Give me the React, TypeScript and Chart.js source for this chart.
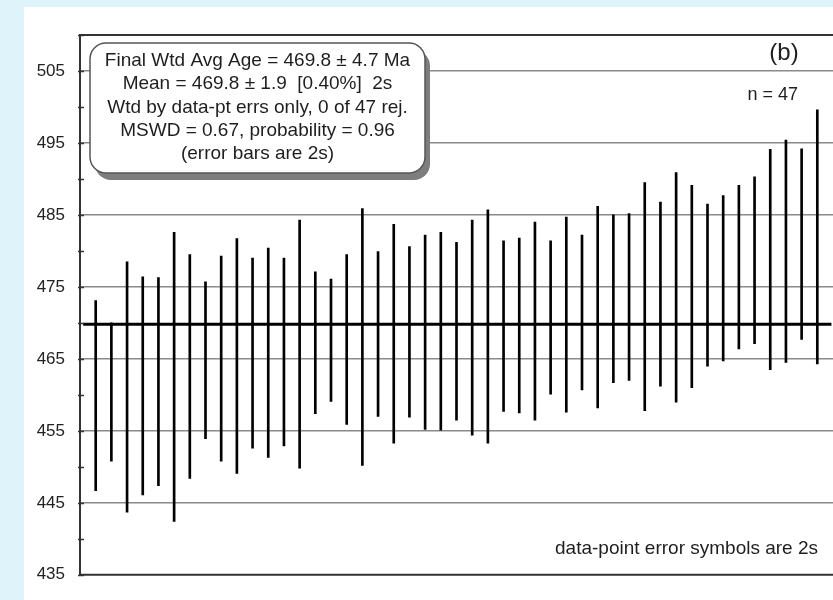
import React, { useEffect, useRef } from "react";
import { Chart, registerables } from "chart.js";

Chart.register(...registerables);

// ---- data ----
const lows = [
  446.7, 450.8, 443.7, 446.1, 447.4, 442.4, 448.4, 453.9, 450.8, 449.1,
  452.6, 451.3, 452.9, 449.8, 457.4, 459.1, 455.9, 450.2, 457.0, 453.3,
  456.9, 455.2, 455.1, 456.5, 454.4, 453.3, 457.7, 457.5, 456.5, 460.1,
  457.6, 460.7, 458.2, 461.7, 462.0, 457.8, 461.2, 459.0, 461.0, 464.0,
  464.7, 466.4, 467.1, 463.5, 464.5, 467.7, 464.3,
];
const highs = [
  473.1, 470.0, 478.5, 476.4, 476.3, 482.6, 479.5, 475.7, 479.3, 481.7,
  479.0, 480.4, 479.0, 484.3, 477.1, 476.1, 479.5, 485.9, 479.9, 483.7,
  480.6, 482.2, 482.6, 481.2, 484.3, 485.7, 481.4, 481.8, 484.0, 481.4,
  484.7, 482.2, 486.2, 485.0, 485.2, 489.5, 486.8, 490.9, 489.1, 486.5,
  487.7, 489.1, 490.3, 494.1, 495.4, 494.2, 499.6,
];
const meanAge = 469.8;
const yMin = 435;
const yMax = 510;
const yStep = 5;
const labelStep = 10;
const xMin = 0;
const xMax = 48;

const infoLines = [
  "Final Wtd Avg Age = 469.8 ± 4.7 Ma",
  "Mean = 469.8 ± 1.9  [0.40%]  2s",
  "Wtd by data-pt errs only, 0 of 47 rej.",
  "MSWD = 0.67, probability = 0.96",
  "(error bars are 2s)",
];
const panelLabel = "(b)";
const countLabel = "n = 47";
const footNote = "data-point error symbols are 2s";

const W = 833;
const H = 600;

function roundRect(ctx: CanvasRenderingContext2D, x: number, y: number, w: number, h: number, r: number) {
  ctx.beginPath();
  ctx.moveTo(x + r, y);
  ctx.lineTo(x + w - r, y);
  ctx.arcTo(x + w, y, x + w, y + r, r);
  ctx.lineTo(x + w, y + h - r);
  ctx.arcTo(x + w, y + h, x + w - r, y + h, r);
  ctx.lineTo(x + r, y + h);
  ctx.arcTo(x, y + h, x, y + h - r, r);
  ctx.lineTo(x, y + r);
  ctx.arcTo(x, y, x + r, y, r);
  ctx.closePath();
}

const decor = {
  id: "decor",
  beforeDraw(chart: any) {
    const { ctx, width, height } = chart;
    ctx.save();
    ctx.fillStyle = "#dff3fb";
    ctx.fillRect(0, 0, width, height);
    ctx.fillStyle = "#ffffff";
    ctx.fillRect(24, 7, width - 24, height - 7);
    ctx.restore();
  },
  afterDraw(chart: any) {
    const { ctx, chartArea: a, scales } = chart;
    const ys = scales.y;
    ctx.save();
    // frame top & bottom
    ctx.strokeStyle = "#333";
    ctx.lineWidth = 2;
    ctx.beginPath();
    ctx.moveTo(a.left, a.top);
    ctx.lineTo(a.right, a.top);
    ctx.moveTo(a.left, a.bottom);
    ctx.lineTo(a.right, a.bottom);
    ctx.stroke();
    // inner tick marks on y axis
    ctx.lineWidth = 1.5;
    ctx.beginPath();
    for (let v = yMin; v <= yMax; v += yStep) {
      const py = Math.round(ys.getPixelForValue(v)) + 0.5;
      ctx.moveTo(a.left - 2, py);
      ctx.lineTo(a.left + 4, py);
    }
    ctx.stroke();

    // info box
    const bx = a.left + 10;
    const by = a.top + 8;
    const bw = 335;
    const bh = 130;
    const r = 16;
    ctx.fillStyle = "#7d7d7d";
    roundRect(ctx, bx + 5, by + 7, bw, bh, r);
    ctx.fill();
    ctx.fillStyle = "#ffffff";
    roundRect(ctx, bx, by, bw, bh, r);
    ctx.fill();
    ctx.strokeStyle = "#555";
    ctx.lineWidth = 1.5;
    ctx.stroke();

    ctx.fillStyle = "#1e1e1e";
    ctx.font = "19px Arial, 'Liberation Sans', sans-serif";
    ctx.textAlign = "center";
    ctx.textBaseline = "middle";
    const cx = bx + bw / 2;
    infoLines.forEach((t, i) => {
      ctx.fillText(t, cx, by + 18 + i * 23.2);
    });

    // panel label and count
    ctx.font = "24px Arial, 'Liberation Sans', sans-serif";
    ctx.textAlign = "center";
    ctx.fillText(panelLabel, 784, a.top + 18);
    ctx.font = "18px Arial, 'Liberation Sans', sans-serif";
    ctx.textAlign = "right";
    ctx.fillText(countLabel, 798, a.top + 60);

    // foot note
    ctx.font = "19px Arial, 'Liberation Sans', sans-serif";
    ctx.textAlign = "right";
    ctx.fillText(footNote, 818, a.bottom - 26);
    ctx.restore();
  },
};

export default function App() {
  const ref = useRef<HTMLCanvasElement | null>(null);

  useEffect(() => {
    if (!ref.current) return;
    const barData = highs.map((h, i) => ({ x: i + 1, y: [lows[i], h] }));
    const chart = new Chart(ref.current, {
      type: "bar",
      data: {
        datasets: [
          {
            type: "bar",
            data: barData as any,
            backgroundColor: "#000",
            borderWidth: 0,
            barThickness: 2,
            order: 2,
          } as any,
          {
            type: "line",
            data: [
              { x: xMin + 0.2, y: meanAge },
              { x: xMax - 0.1, y: meanAge },
            ],
            borderColor: "#000",
            borderWidth: 3,
            pointRadius: 0,
            order: 1,
          } as any,
        ],
      },
      options: {
        responsive: false,
        animation: false,
        events: [],
        layout: { padding: { top: 35, bottom: 21, left: 0, right: 0 } },
        plugins: {
          legend: { display: false },
          tooltip: { enabled: false },
          title: { display: false },
        },
        scales: {
          x: {
            type: "linear",
            min: xMin,
            max: xMax,
            offset: false,
            display: false,
          },
          y: {
            type: "linear",
            min: yMin,
            max: yMax,
            afterFit: (scale: any) => {
              scale.width = 80;
            },
            ticks: {
              stepSize: yStep,
              padding: 15,
              color: "#222",
              font: { family: "Arial, 'Liberation Sans', sans-serif", size: 17 },
              callback: (v: any) =>
                (Number(v) - yMin) % labelStep === 0 ? String(v) : "",
            },
            grid: {
              drawTicks: false,
              lineWidth: 1.5,
              color: (c: any) =>
                c.tick && (c.tick.value - yMin) % labelStep === 0 && c.tick.value !== yMin
                  ? "#8a8a8a"
                  : "rgba(0,0,0,0)",
            },
            border: { display: true, color: "#333", width: 2 },
          },
        },
      },
      plugins: [decor],
    });
    return () => chart.destroy();
  }, []);

  return (
    <div style={{ position: "absolute", left: 0, top: 0, width: W, height: H }}>
      <canvas ref={ref} width={W} height={H} style={{ display: "block" }} />
    </div>
  );
}
